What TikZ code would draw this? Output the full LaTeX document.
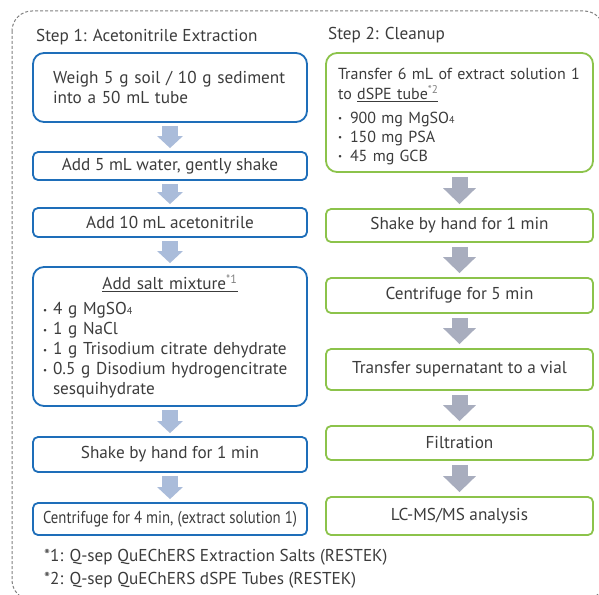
\documentclass[tikz,border=0pt]{standalone}
\usepackage{fontspec}
\setmainfont{PT Sans}
\usepackage{graphicx}
\usepackage{tikz}
\usetikzlibrary{arrows.meta, calc}

\definecolor{stepblue}{RGB}{30,110,185}
\definecolor{stepgreen}{RGB}{140,195,75}
\definecolor{arrowblue}{RGB}{170,188,218}
\definecolor{arrowgray}{RGB}{168,173,190}
\definecolor{txtgray}{RGB}{60,60,60}
\definecolor{framegray}{RGB}{128,128,128}

\newcommand{\dotmark}{\raisebox{1.6pt}{\fontsize{9}{9}\selectfont •}}
\newcommand{\bul}{\makebox[10pt][l]{\dotmark}}
\newcommand{\bulr}{\makebox[12pt][l]{\dotmark}}
\newcommand{\note}[1]{\textsuperscript{\color{gray}*#1}}
\newcommand{\subfour}{{\fontsize{10}{10}\selectfont 4}}

\tikzset{
  box/.style={draw, line width=1.8pt, rounded corners=5pt, text=txtgray, inner sep=0pt,
    font=\fontsize{17.2}{20}\selectfont},
  leftbox/.style={box, draw=stepblue, minimum width=274pt},
  rightbox/.style={box, draw=stepgreen, minimum width=267pt},
  bigbox/.style={rounded corners=11pt, align=left},
  leftflow/.style={draw=arrowblue, line width=16pt, shorten <=3pt, shorten >=3pt,
    -{Triangle[width=25pt,length=12pt]}},
  rightflow/.style={draw=arrowgray, line width=16pt, shorten <=4pt, shorten >=4pt,
    -{Triangle[width=32pt,length=16pt]}},
  steptitle/.style={anchor=west, text=txtgray, inner sep=0pt, font=\fontsize{17.2}{20}\selectfont},
}

\begin{document}
\begin{tikzpicture}[x=1pt, y=-1pt]
\useasboundingbox (0,0) rectangle (599,594);
\begin{scope}
\clip (0,0) rectangle (599,594);
\draw[framegray, line width=1pt, dash pattern=on 3pt off 2pt, rounded corners=20pt] (12,11) rectangle (604,600);
\end{scope}

% step 1
\node[steptitle] (t1) at (36,37) {Step 1: Acetonitrile Extraction};
\node[leftbox, bigbox, text width=234pt, minimum height=69pt] (l1) at (170,87.5)
  {Weigh 5 g soil / 10 g sediment\\into a 50 mL tube};
\node[leftbox, minimum height=28pt] (l2) at (170,166) {Add 5 mL water, gently shake};
\node[leftbox, minimum height=29pt] (l3) at (170,222.5) {Add 10 mL acetonitrile};
\node[leftbox, bigbox, text width=254pt, minimum height=139pt] (l4) at (170,336.5)
  {\makebox[254pt][c]{\underline{Add salt mixture\note{1}}}\\[5pt]
   \bul 4 g MgSO\subfour\\
   \bul 1 g NaCl\\
   \bul 1 g Trisodium citrate dehydrate\\
   \bul 0.5 g Disodium hydrogencitrate\\
   \hspace*{10pt}sesquihydrate};
\node[leftbox, minimum height=35pt] (l5) at (170,454.5) {Shake by hand for 1 min};
\node[leftbox, minimum height=32pt] (l6) at (170,519)
  {\scalebox{0.86}[1]{Centrifuge for 4 min, (extract solution 1)}};

\foreach \a/\b in {l1/l2, l2/l3, l3/l4, l4/l5, l5/l6}
  \draw[leftflow] (\a) -- (\b);

% step 2
\node[steptitle] (t2) at (328,35) {Step 2: Cleanup};
\node[rightbox, bigbox, text width=243pt, minimum height=119pt,
  font=\fontsize{16}{20}\selectfont] (r1) at (459.5,112.5)
  {\rule{0pt}{19pt}Transfer 6 mL of extract solution 1\\
   to \underline{dSPE tube\note{2}}\\[4pt]
   \bulr 900 mg MgSO\subfour\\[-1pt]
   \bulr 150 mg PSA\\[-1pt]
   \bulr 45 mg GCB};
\node[rightbox, minimum height=33pt] (r2) at (459.5,225.5) {Shake by hand for 1 min};
\node[rightbox, minimum height=35pt] (r3) at (459.5,295.5) {Centrifuge for 5 min};
\node[rightbox, minimum height=41pt] (r4) at (459.5,369.5) {Transfer supernatant to a vial};
\node[rightbox, minimum height=34pt] (r5) at (459.5,443) {Filtration};
\node[rightbox, minimum height=38pt] (r6) at (459.5,516) {LC-MS/MS analysis};

\foreach \a/\b in {r1/r2, r2/r3, r3/r4, r4/r5, r5/r6}
  \draw[rightflow] (\a) -- (\b);

% footnotes
\node[steptitle] (n1) at (44,557) {*1: Q-sep QuEChERS Extraction Salts (RESTEK)};
\node[steptitle] (n2) at (44,580) {*2: Q-sep QuEChERS dSPE Tubes (RESTEK)};
\end{tikzpicture}
\end{document}
